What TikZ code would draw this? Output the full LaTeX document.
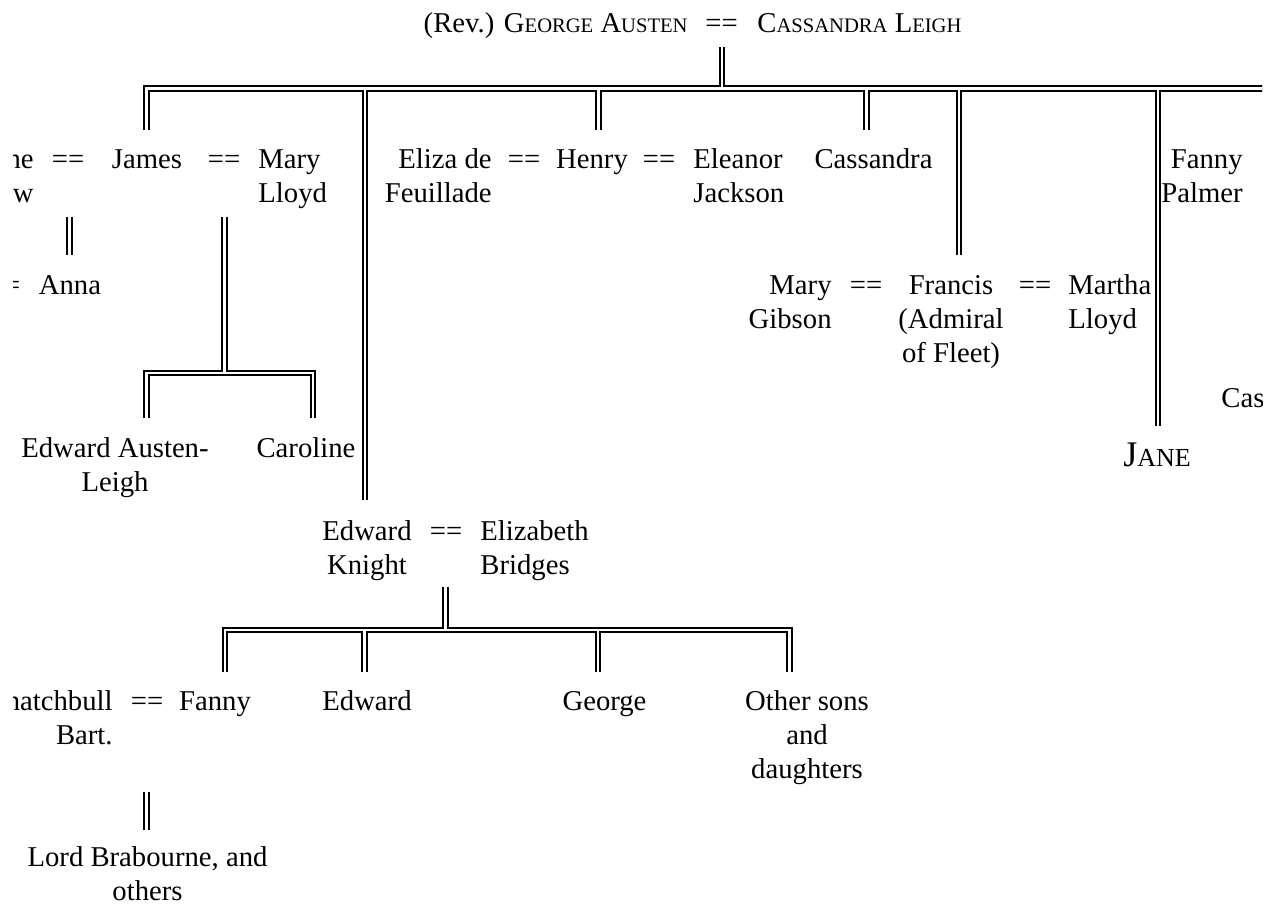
\documentclass[tikz,border=0pt]{standalone}
\usepackage{fontspec}
\setmainfont{Liberation Serif}
\newcommand{\namefont}{\fontsize{14.35}{17}\selectfont}
\newcommand{\capsname}[2]{#1{\fontsize{10.3}{17}\selectfont #2}}
\tikzset{
  person/.style={inner sep=0pt, font=\namefont, anchor=base, align=center},
  lspouse/.style={person, anchor=base east, align=right},
  rspouse/.style={person, anchor=base west, align=left},
  wed/.style={person},
  descent/.style={double, line width=1pt, double distance=1.25pt},
  to bar/.style={descent, shorten >=0.625pt},
  from bar/.style={descent, shorten <=0.625pt}
}
\begin{document}
\begin{tikzpicture}[x=0.5pt,y=-0.5pt]
\useasboundingbox (0,0) rectangle (1273,909);
\clip (13,0) rectangle (1262,909);

% Parents (multi-line nodes sit on the baseline of their last line)
\node[lspouse] (george) at (688,33) {(Rev.) \capsname{G}{EORGE} \capsname{A}{USTEN}};
\node[wed] (wed0) at (721.5,33) {==};
\node[rspouse] (cassleigh) at (757,33) {\capsname{C}{ASSANDRA} \capsname{L}{EIGH}};

% First generation
\node[lspouse] (anne) at (34,203) {Anne\\Mathew};
\node[wed] (wedA) at (68,169) {==};
\node[person] (james) at (147,169) {James};
\node[wed] (wedB) at (224,169) {==};
\node[rspouse] (marylloyd) at (258,203) {Mary\\Lloyd};
\node[lspouse] (eliza) at (492,203) {Eliza de\\Feuillade};
\node[wed] (wedC) at (524,169) {==};
\node[person] (henry) at (592,169) {Henry};
\node[wed] (wedD) at (659,169) {==};
\node[rspouse] (eleanor) at (693,203) {Eleanor\\Jackson};
\node[person] (cassandra) at (873.5,169) {Cassandra};
\node[lspouse] (fannypalmer) at (1243,203) {Fanny\\Palmer};

\node[wed] (wedE) at (4,294) {==};
\node[person] (anna) at (70,294) {Anna};
\node[lspouse] (marygibson) at (832,328) {Mary\\Gibson};
\node[wed] (wedF) at (866,294) {==};
\node[person] (francis) at (951,362) {Francis\\(Admiral\\of Fleet)};
\node[wed] (wedG) at (1035,294) {==};
\node[rspouse] (martha) at (1068,328) {Martha\\Lloyd};

\node[person] (austenleigh) at (115,491) {Edward Austen-\\Leigh};
\node[person] (caroline) at (306,457) {Caroline};
\node[rspouse] (cas) at (1221,407) {Cassandra};
\node[person, font=\fontsize{18}{21}\selectfont] (jane) at (1157,466) {J{\fontsize{13}{17}\selectfont ANE}};

\node[person] (edward) at (367,574) {Edward\\Knight};
\node[wed] (wedH) at (446,540) {==};
\node[rspouse] (elizabeth) at (480,574) {Elizabeth\\Bridges};

% Knight children
\node[lspouse] (knatchbull) at (113,744) {Knatchbull\\Bart.};
\node[wed] (wedI) at (147,710) {==};
\node[person] (fanny) at (215,710) {Fanny};
\node[person] (edwardjr) at (367,710) {Edward};
\node[person] (george2) at (604.5,710) {George};
\node[person] (others) at (807,778) {Other sons\\and\\daughters};
\node[person] (brabourne) at (147.5,900) {Lord Brabourne, and\\others};

% line ends
\coordinate (pTop) at (722,47);
\coordinate (barR) at (1300,88.5);
\coordinate (kJames) at (146.5,130);
\coordinate (kEdward) at (365,500);
\coordinate (kHenry) at (598.5,130);
\coordinate (kCass) at (866.5,130);
\coordinate (kFrancis) at (959,255);
\coordinate (kJane) at (1158,426);
\coordinate (anTop) at (69.5,217);
\coordinate (anBot) at (69.5,255);
\coordinate (jmTop) at (224.5,217);
\coordinate (jmBar) at (224.5,373);
\coordinate (kAusten) at (146.5,418);
\coordinate (kCaro) at (313,418);
\coordinate (ekTop) at (445.5,587);
\coordinate (ekBar) at (445.5,630);
\coordinate (kFanny) at (225,672);
\coordinate (kEdJr) at (364.5,672);
\coordinate (kGeorge) at (598,672);
\coordinate (kOthers) at (789.5,672);
\coordinate (brTop) at (146.5,792);
\coordinate (brBot) at (146.5,830);

% top family
\draw[descent] (kJames) |- (barR);
\draw[to bar] (pTop) -- (pTop |- barR);
\foreach \k in {kEdward,kHenry,kCass,kFrancis,kJane}
  \draw[from bar] (\k |- barR) -- (\k);

% James
\draw[descent] (anTop) -- (anBot);
\draw[descent] (kAusten) |- (jmBar) -| (kCaro);
\draw[to bar] (jmTop) -- (jmBar);

% Edward Knight
\draw[descent] (kFanny) |- (ekBar) -| (kOthers);
\draw[to bar] (ekTop) -- (ekBar);
\foreach \k in {kEdJr,kGeorge}
  \draw[from bar] (\k |- ekBar) -- (\k);
\draw[descent] (brTop) -- (brBot);

\end{tikzpicture}
\end{document}
